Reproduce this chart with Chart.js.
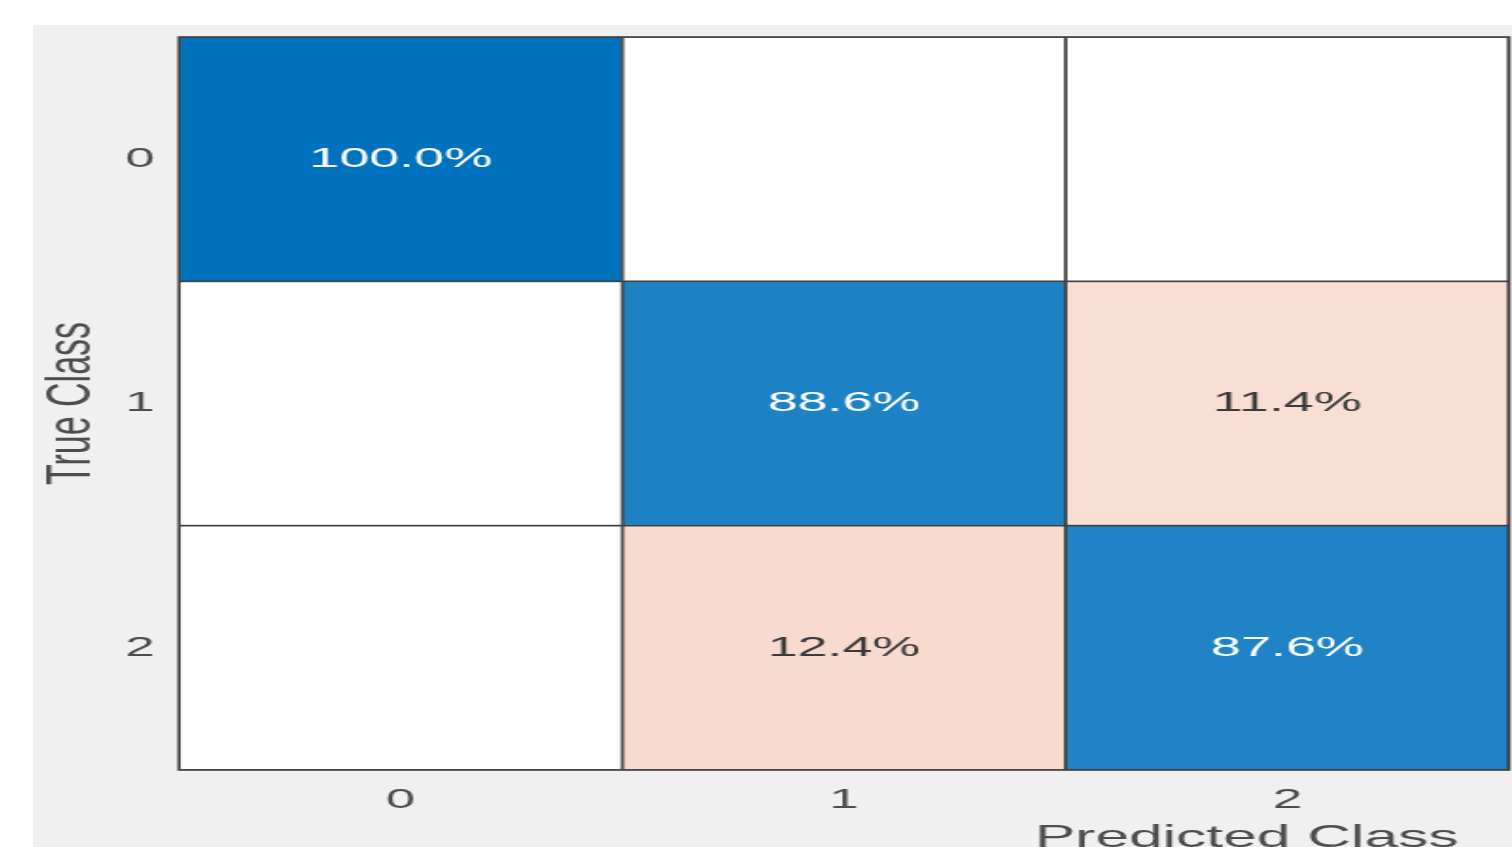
<!DOCTYPE html>
<html>
<head>
<meta charset="utf-8">
<script src="https://cdn.jsdelivr.net/npm/chart.js@4/dist/chart.umd.min.js"></script>
<style>
    html, body { margin: 0; padding: 0; background: #ffffff; overflow: hidden; }
    #wrap { position: absolute; left: 33px; top: 25px; width: 1479px; height: 822px; background: #f0f0f0; }
</style>
</head>
<body>
<div id="wrap">
    <canvas id="cm" width="782" height="822" style="width:1479px;height:822px;display:block;"></canvas>
</div>
<script>
// confusion matrix, rows = true class, cols = predicted class (row %)
const classes = ['0', '1', '2'];
const percents = [
    [100.0, 0, 0],
    [0, 88.6, 11.4],
    [0, 12.4, 87.6]
];

Chart.defaults.font.family = "'Liberation Sans', Arial, sans-serif";

let cells = [];
percents.forEach((row, r) => {
    row.forEach((v, c) => {
        cells.push({ x: classes[c], y: [r - 0.5, r + 0.5], v: v, r: r, c: c });
    });
});

function mix(a, b, t) {
    return 'rgb(' + a.map((ch, i) => Math.round(ch + (b[i] - ch) * t)).join(',') + ')';
}

function cellColor(ctx) {
    const d = ctx.raw;
    if (!d || d.v === 0) return '#ffffff';
    if (d.r === d.c) return mix([255, 255, 255], [0, 114, 189], d.v / 100);
    return mix([255, 255, 255], [217, 83, 25], Math.min(1, d.v / 60));
}

const cellText = {
    id: 'cellText',
    afterDatasetsDraw(chart) {
        const { ctx } = chart;
        const meta = chart.getDatasetMeta(0);
        ctx.save();
        ctx.font = "28.5px 'Liberation Sans', Arial, sans-serif";
        ctx.textAlign = 'center';
        ctx.textBaseline = 'middle';
        meta.data.forEach((bar, i) => {
            const d = chart.data.datasets[0].data[i];
            if (d.v === 0) return;
            const p = bar.getCenterPoint();
            ctx.fillStyle = d.r === d.c ? '#ffffff' : '#3a3a3a';
            ctx.fillText(d.v.toFixed(1) + '%', p.x, p.y);
        });
        // frame round the plot
        const a = chart.chartArea;
        ctx.strokeStyle = '#404040';
        ctx.lineWidth = 1.6;
        ctx.strokeRect(a.left, a.top, a.right - a.left, a.bottom - a.top);
        ctx.restore();
    }
};

let ctx = document.getElementById('cm');
let heatmap = new Chart(ctx, {
    type: 'bar',
    data: {
        labels: classes,
        datasets: [{
            data: cells,
            backgroundColor: cellColor,
            borderColor: '#404040',
            borderWidth: 1.2,
            borderSkipped: false,
            barPercentage: 1,
            categoryPercentage: 1
        }]
    },
    options: {
        responsive: false,
        devicePixelRatio: 1,
        animation: false,
        layout: {
            padding: { top: 12, right: 1.6, left: 0, bottom: 0 }
        },
        scales: {
            x: {
                type: 'category',
                labels: classes,
                offset: true,
                grid: { display: false, drawTicks: false },
                border: { display: false },
                ticks: {
                    color: '#4d4d4d',
                    font: { size: 28 },
                    padding: 13
                },
                title: {
                    display: true,
                    text: 'Predicted Class   ',
                    align: 'end',
                    color: '#4d4d4d',
                    font: { size: 32 },
                    padding: { top: 0, bottom: -10.5 }
                },
                afterFit: (s) => {
                    s.height = 77;
                    s.paddingLeft = 0;
                    s.paddingRight = 0;
                }
            },
            y: {
                type: 'linear',
                min: -0.5,
                max: 2.5,
                reverse: true,
                grid: { display: false, drawTicks: false },
                border: { display: false },
                afterBuildTicks: (s) => { s.ticks = classes.map((c, i) => ({ value: i })); },
                ticks: {
                    color: '#4d4d4d',
                    font: { size: 28 },
                    padding: 13,
                    callback: (v) => classes[v]
                },
                title: {
                    display: true,
                    text: 'True Class',
                    color: '#4d4d4d',
                    font: { size: 34 },
                    padding: { top: 0.5, bottom: 0 }
                },
                afterFit: (s) => {
                    s.width = 77.2;
                    s.paddingTop = 0;
                    s.paddingBottom = 0;
                }
            }
        },
        plugins: {
            legend: { display: false },
            tooltip: { enabled: false }
        }
    },
    plugins: [cellText]
});
</script>
</body>
</html>
